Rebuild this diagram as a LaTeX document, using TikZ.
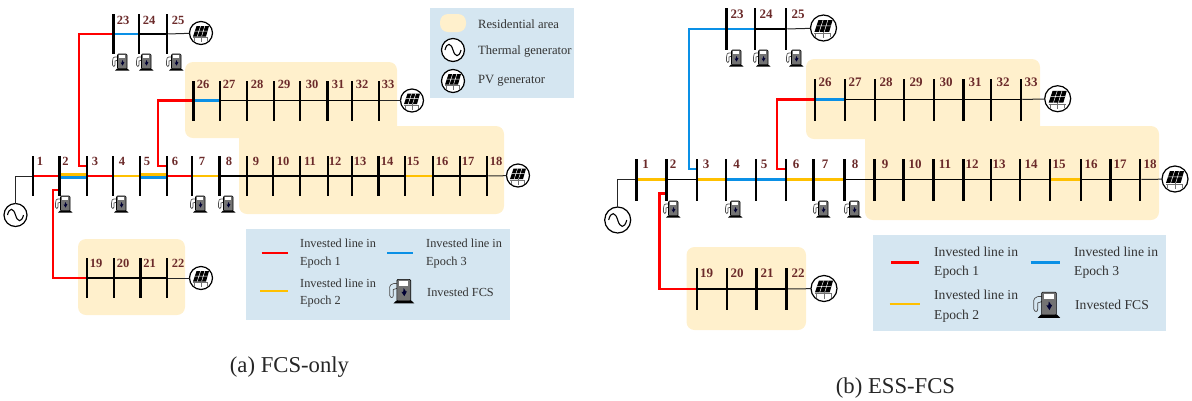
\documentclass[tikz,border=0pt]{standalone}
\usepackage{fontspec}
\setmainfont{Liberation Serif}
\definecolor{areac}{HTML}{FFF0CC}
\definecolor{legc}{HTML}{D5E6F1}
\definecolor{epa}{HTML}{FF0000}
\definecolor{epb}{HTML}{FFC000}
\definecolor{epc}{HTML}{0A90E6}
\definecolor{labc}{HTML}{6B2A2A}
\tikzset{
  busbar/.style={rectangle,fill=black,inner sep=0pt,outer sep=0pt,minimum width=2.5bp,minimum height=#1},
  buslab/.style={text=labc,inner sep=0pt,font=\bfseries\fontsize{#1}{#1}\selectfont},
  gen/.style={circle,draw=black,fill=white,line width=1.2bp,inner sep=0pt,outer sep=0pt,minimum size=#1},
  ln/.style={black,line width=1.6bp},
  tie/.style={black!85,line width=1bp},
  epA/.style={epa,line width=2.4bp},
  epB/.style={epb,line width=2.4bp},
  epC/.style={epc,line width=2.4bp},
  area/.style={fill=areac,draw=none,rounded corners=8bp},
  leg/.style={fill=legc,draw=none},
  legtext/.style={anchor=west,inner sep=0pt,text=black!80,font=\fontsize{#1}{#1}\selectfont},
  capt/.style={inner sep=0pt,text=black!85,font=\fontsize{22.7bp}{24bp}\selectfont},
  pvicon/.pic={
    \draw[black!55,line width=.5bp] (-8,4.5) -- (7,4.5) (-7,4.5) -- (-7,8) (0,3) -- (0,9) (6,4.5) -- (6,8);
    \fill[black] (-4.5,-7) -- (8,-7) -- (5,3.5) -- (-8,3.5) -- cycle;
    \draw[white,line width=.5bp] (-6.2,-1.8) -- (6.6,-1.8) (-.4,-7) -- (-3.8,3.5) (3.8,-7) -- (.6,3.5);
  },
  sineicon/.pic={
    \draw[black,line width=1.1bp] (-8,0) .. controls (-6,-8) and (-2,-7) .. (0,0) .. controls (2,7) and (6,8) .. (8,0);
  },
  fcsicon/.pic={
    \draw[black!70,line width=.7bp,fill=none] (-3,-5) .. controls (-8,-6) and (-9,-3) .. (-8.5,-1) -- (-8.5,3) .. controls (-8,5) and (-6,5) .. (-6,3) -- (-6,-1) -- (-3,-2);
    \draw[black,fill=black!55,line width=.6bp,rounded corners=1bp] (-3.5,7) -- (-3.5,-8) -- (6,-8) -- (6,7) -- cycle;
    \fill[white] (-1.8,-6.7) rectangle (4.3,-3.6);
    \fill[black] (-6,8.6) -- (-4,6.6) -- (6.5,6.6) -- (8.5,8.6) -- cycle;
    \fill[black!80!blue] (1.2,-2) -- (2.6,0.2) -- (3.4,.2) -- (1.6,3.6) -- (-.4,.6) -- (.8,.6) -- cycle;
  }
}
\newcommand{\busrow}[6]{% prefix, y, bar height, label y, label size, list
  \foreach \n/\x/\lx in {#6}{
    \node[busbar=#3] (#1\n) at (\x,#2) {};
    \node[buslab=#5] (#1l\n) at (\lx,#4) {\n};
  }}
\begin{document}
\begin{tikzpicture}[x=1bp,y=-1bp]
\useasboundingbox (0,0) rectangle (1192,400);
% residential areas, left
\fill[area] (185,62) rectangle (397,138);
\fill[area] (239,126) rectangle (504,214);
\fill[area] (78,239) rectangle (185,315);
% residential areas, right
\fill[area] (806,59) rectangle (1040,139);
\fill[area] (865,126) rectangle (1159,220);
\fill[area] (686.5,247) rectangle (806,330);
% legend panels
\fill[leg] (430,8) rectangle (574,98);
\fill[leg] (246,229) rectangle (510,320);
\fill[leg] (873,235) rectangle (1166,331);
% left buses
\busrow{a}{176}{40bp}{161}{12.5bp}{1/33/40,2/59.5/65.5,3/87/95,4/113/122,5/140/147,6/167/175,7/192/202,8/219.5/229,9/247/256,10/273/283,11/300/310,12/328/335,13/352/360,14/378.5/387,15/405/413,16/433/442,17/460/468,18/487/496}
\busrow{a}{34}{40bp}{20}{12.5bp}{23/113.5/123,24/139/149,25/167/178}
\busrow{a}{100.5}{40bp}{84}{12.5bp}{26/193.5/203,27/220/229,28/247/257,29/274/284,30/300/312,31/327.5/338,32/352/362,33/379/388}
\busrow{a}{278}{40bp}{263}{12.5bp}{19/87/96,20/114/123,21/140.5/149.5,22/167/178}
% left generators
\node[gen=23bp] (ath) at (15.5,215) {};
\node[gen=23bp] (apa) at (201,33) {};
\node[gen=23bp] (apb) at (412,100.5) {};
\node[gen=23bp] (apc) at (518,175.5) {};
\node[gen=23bp] (apd) at (201,278) {};
\pic at (ath) {sineicon};
\foreach \p in {apa,apb,apc,apd}{\pic at (\p) {pvicon};}
% left connectors
\draw[tie] (a1) -| (ath);
\draw[tie] (a25) -- (apa);
\draw[tie] (a33) -- (apb);
\draw[tie] (a18) -- (apc);
\draw[tie] (a22) -- (apd);
\foreach \u/\v in {8/9,9/10,10/11,11/12,12/13,13/14,14/15,16/17,17/18,24/25,27/28,28/29,29/30,30/31,31/32,32/33,19/20,20/21,21/22}{\draw[ln] (a\u) -- (a\v);}
\foreach \u/\v in {1/2,3/4,6/7}{\draw[epA] (a\u) -- (a\v);}
\foreach \u/\v in {4/5,7/8,15/16}{\draw[epB] (a\u) -- (a\v);}
\foreach \u/\v in {23/24,26/27}{\draw[epC] (a\u) -- (a\v);}
\foreach \u/\v in {2/3,5/6}{
  \draw[epB] ([yshift=1.4bp]a\u.east) -- ([yshift=1.4bp]a\v.west);
  \draw[epC] ([yshift=-1.4bp]a\u.east) -- ([yshift=-1.4bp]a\v.west);
}
\draw[epA] ([yshift=10bp]a3.west) -- ++(-7,0) |- (a23.west);
\draw[epA] ([yshift=10bp]a6.west) -- ++(-7.5,0) |- (a26.west);
\draw[epA] ([yshift=-14bp]a2.west) -- ++(-5.5,0) |- (a19.west);
% left FCS icons
\foreach \x/\y in {121/62,145/62,175/62,64/204,120/204,199/204,227/204}{\pic at (\x,\y) {fcsicon};}
% right buses
\busrow{b}{179.5}{42bp}{164}{13bp}{1/636.7/645.5,2/666.7/673,3/697/706,4/726/736.5,5/756/764,6/786/796,7/813.5/825,8/844.5/855,9/874.5/885,10/903.5/915,11/933.5/945,12/963.5/972,13/991/999,14/1020/1031,15/1050/1059,16/1081/1091,17/1110.5/1120,18/1140/1150}
\busrow{b}{29}{42bp}{14}{13bp}{23/726.5/737,24/755/766,25/786/798}
\busrow{b}{99.5}{42bp}{82}{13bp}{26/815/825,27/845/855,28/875/886,29/904/916,30/934/946,31/963.5/975,32/991/1003,33/1021/1031}
\busrow{b}{289}{42bp}{273.5}{13bp}{19/697/706.5,20/727/737,21/756.5/767,22/786.5/798}
% right generators
\node[gen=26bp] (bth) at (617.7,220) {};
\node[gen=26bp] (bpa) at (823.5,28) {};
\node[gen=26bp] (bpb) at (1057.7,98.7) {};
\node[gen=26bp] (bpc) at (1175,179) {};
\node[gen=26bp] (bpd) at (824,288.5) {};
\pic[scale=1.13] at (bth) {sineicon};
\foreach \p in {bpa,bpb,bpc,bpd}{\pic[scale=1.13] at (\p) {pvicon};}
% right connectors
\draw[tie] (b1) -| (bth);
\draw[tie] (b25) -- (bpa);
\draw[tie] (b33) -- (bpb);
\draw[tie] (b18) -- (bpc);
\draw[tie] (b22) -- (bpd);
\foreach \u/\v in {2/3,8/9,9/10,10/11,11/12,12/13,13/14,14/15,16/17,17/18,24/25,27/28,28/29,29/30,30/31,31/32,32/33,19/20,20/21,21/22}{\draw[ln] (b\u) -- (b\v);}
\foreach \u/\v in {1/2,3/4,6/7,7/8,15/16}{\draw[epB] (b\u) -- (b\v);}
\foreach \u/\v in {4/5,5/6,23/24,26/27}{\draw[epC] (b\u) -- (b\v);}
\draw[epC] ([yshift=10.5bp]b3.west) -- ++(-7,0) |- (b23.west);
\draw[epA] ([yshift=10.5bp]b6.west) -- ++(-8,0) |- (b26.west);
\draw[epA] ([yshift=-14bp]b2.west) -- ++(-6,0) |- (b19.west);
% right FCS icons
\foreach \x/\y in {735/58,762/58,795/58,672/209,734/209,822/209,853/209}{\pic at (\x,\y) {fcsicon};}
% top legend
\fill[areac,rounded corners=8bp] (440,14) rectangle (466,32);
\node[legtext=12.6bp] (ltr) at (478,24) {Residential area};
\node[gen=23bp] (lth) at (453,50) {};
\pic at (lth) {sineicon};
\node[legtext=12.6bp] (ltt) at (478,51) {Thermal generator};
\node[gen=23bp] (ltp) at (453,81) {};
\pic at (ltp) {pvicon};
\node[legtext=12.6bp] (ltv) at (478,81) {PV generator};
% left legend
\coordinate (lar0) at (261.7,253); \coordinate (lar1) at (287.7,253);
\coordinate (lab0) at (387,253); \coordinate (lab1) at (413,253);
\coordinate (lay0) at (260,291); \coordinate (lay1) at (288,291);
\draw[epA] (lar0) -- (lar1);
\draw[epC] (lab0) -- (lab1);
\draw[epB] (lay0) -- (lay1);
\node[legtext=12.3bp] (la1) at (300,243.5) {Invested line in};
\node[legtext=12.3bp] (la2) at (300,262.5) {Epoch 1};
\node[legtext=12.3bp] (la3) at (300,283) {Invested line in};
\node[legtext=12.3bp] (la4) at (300,302) {Epoch 2};
\node[legtext=12.3bp] (la5) at (426,243.5) {Invested line in};
\node[legtext=12.3bp] (la6) at (426,262.5) {Epoch 3};
\pic[scale=1.45] at (402,291) {fcsicon};
\node[legtext=12.3bp] (la7) at (427,292.5) {Invested FCS};
% right legend
\coordinate (lbr0) at (891,262.4); \coordinate (lbr1) at (919,262.4);
\coordinate (lbb0) at (1030.7,262.4); \coordinate (lbb1) at (1059.6,262.4);
\coordinate (lby0) at (889.6,303.8); \coordinate (lby1) at (920,303.8);
\draw[epA] (lbr0) -- (lbr1);
\draw[epC] (lbb0) -- (lbb1);
\draw[epB] (lby0) -- (lby1);
\node[legtext=13.6bp] (lb1) at (934,251.7) {Invested line in};
\node[legtext=13.6bp] (lb2) at (934,272.4) {Epoch 1};
\node[legtext=13.6bp] (lb3) at (934,295) {Invested line in};
\node[legtext=13.6bp] (lb4) at (934,316) {Epoch 2};
\node[legtext=13.6bp] (lb5) at (1074,251.7) {Invested line in};
\node[legtext=13.6bp] (lb6) at (1074,272.4) {Epoch 3};
\pic[scale=1.55] at (1047,304.5) {fcsicon};
\node[legtext=13.6bp] (lb7) at (1075,305) {Invested FCS};
% captions
\node[capt] (capa) at (289.5,367) {(a) FCS-only};
\node[capt] (capb) at (895.5,388.5) {(b) ESS-FCS};
\end{tikzpicture}
\end{document}
